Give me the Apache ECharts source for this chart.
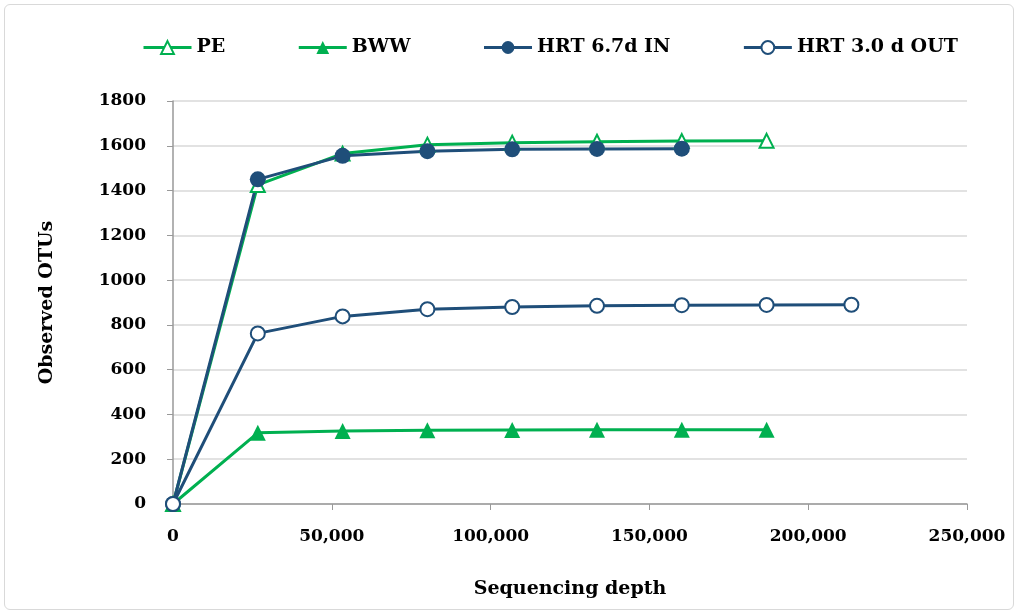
<!DOCTYPE html>
<html>
<head>
<meta charset="utf-8">
<script src="https://cdn.jsdelivr.net/npm/echarts@6/dist/echarts.min.js"></script>
<style>
  html, body { margin: 0; padding: 0; background: #fff; }
  #main { position: absolute; left: 4px; top: 4px; width: 1010px; height: 606px;
          border: 1px solid #d9d9d9; border-radius: 6px; box-sizing: border-box; }
</style>
</head>
<body>
<div id="main"></div>
<script>
// sequencing depth steps (reads)
var depth = [0, 26700, 53400, 80100, 106800, 133500, 160200, 186900, 213600];

// observed OTUs per sample
var pe     = [0, 1425, 1565, 1605, 1614, 1618, 1621, 1622];
var bww    = [0, 318, 326, 329, 331, 332, 332, 332];
var hrtIn  = [0, 1450, 1555, 1576, 1584, 1586, 1587];
var hrtOut = [0, 762, 838, 870, 880, 885, 888, 889, 890];

var yTicks = [0, 200, 400, 600, 800, 1000, 1200, 1400, 1600, 1800];

var green = '#00B050';
var navy = '#1F4E79';
var font = 'DejaVu Serif';

function pairs(vals) {
    return vals.map(function (v, i) { return [depth[i], v]; });
}

var chart = echarts.init(document.getElementById('main'));
chart.setOption({
    animation: false,
    textStyle: { fontFamily: font },
    legend: {
        top: 28,
        left: 132,
        itemWidth: 48,
        itemHeight: 16,
        itemGap: 72,
        lineStyle: { width: 3 },
        textStyle: { fontFamily: font, fontWeight: 'bold', fontSize: 19, color: '#000' },
        data: ['PE', 'BWW', 'HRT 6.7d IN', 'HRT 3.0 d OUT']
    },
    grid: { left: 168, right: 46, top: 96, bottom: 105 },
    xAxis: {
        type: 'value',
        min: 0, max: 250000, interval: 50000,
        name: 'Sequencing depth',
        nameLocation: 'middle',
        nameGap: 76,
        nameTextStyle: { fontFamily: font, fontWeight: 'bold', fontSize: 19, color: '#000' },
        axisLine: { show: true, lineStyle: { color: '#999', width: 1.5 } },
        axisTick: { show: true, length: 6, lineStyle: { color: '#999' } },
        axisLabel: {
            fontFamily: font, fontWeight: 'bold', fontSize: 17, color: '#000', margin: 24,
            formatter: function (v) { return v.toLocaleString('en-US'); }
        },
        splitLine: { show: false }
    },
    yAxis: {
        type: 'value',
        min: yTicks[0], max: yTicks[yTicks.length - 1], interval: 200,
        name: 'Observed OTUs',
        nameLocation: 'middle',
        nameGap: 116,
        nameTextStyle: { fontFamily: font, fontWeight: 'bold', fontSize: 19, color: '#000' },
        axisLine: { show: true, lineStyle: { color: '#999', width: 1.5 } },
        axisTick: { show: true, length: 6, lineStyle: { color: '#999' } },
        axisLabel: {
            fontFamily: font, fontWeight: 'bold', fontSize: 17, color: '#000', margin: 27,
            formatter: function (v) { return String(v); }
        },
        splitLine: { lineStyle: { color: '#d9d9d9', width: 1.5 } }
    },
    series: [
        {
            name: 'PE', type: 'line', data: pairs(pe),
            symbol: 'triangle', symbolSize: 14,
            lineStyle: { color: green, width: 3 },
            itemStyle: { color: '#fff', borderColor: green, borderWidth: 2 }
        },
        {
            name: 'BWW', type: 'line', data: pairs(bww),
            symbol: 'triangle', symbolSize: 16,
            lineStyle: { color: green, width: 3 },
            itemStyle: { color: green }
        },
        {
            name: 'HRT 6.7d IN', type: 'line', data: pairs(hrtIn),
            symbol: 'circle', symbolSize: 16,
            lineStyle: { color: navy, width: 3 },
            itemStyle: { color: navy }
        },
        {
            name: 'HRT 3.0 d OUT', type: 'line', data: pairs(hrtOut),
            symbol: 'circle', symbolSize: 14,
            lineStyle: { color: navy, width: 3 },
            itemStyle: { color: '#fff', borderColor: navy, borderWidth: 2 }
        }
    ]
});
</script>
</body>
</html>
